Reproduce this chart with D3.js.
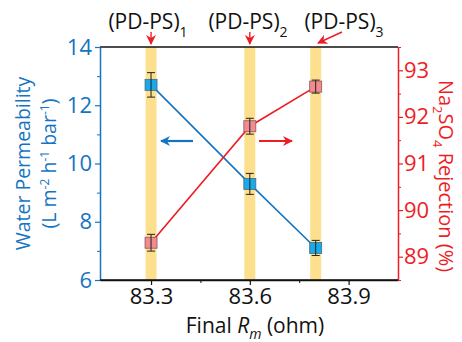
<!DOCTYPE html>
<html>
<head>
<meta charset="utf-8">
<script src="https://cdn.jsdelivr.net/npm/d3@7"></script>
<style>
  body { margin: 0; background: #fff; }
  text { font-family: "Open Sans", "Noto Sans", sans-serif; }
</style>
</head>
<body>
<div class="chart"></div>
<script>
// data
var rm = [83.3, 83.6, 83.8];
var perm = [12.7, 9.3, 7.1];
var permErr = [0.42, 0.36, 0.26];
var rej = [89.3, 91.8, 92.65];
var rejErr = [0.18, 0.17, 0.14];
var sampleSubs = ["1", "2", "3"];
var xTicks = [83.3, 83.6, 83.9];
var xMinor = [83.45, 83.75];
var leftTicks = [6, 8, 10, 12, 14];
var leftMinor = [7, 9, 11, 13];
var rightTicks = [89, 90, 91, 92, 93];
var rightMinor = [88.5, 89.5, 90.5, 91.5, 92.5, 93.5];

var W = 462, H = 342;
var pL = 100, pR = 398, pT = 47, pB = 280;
var blue = "#1574c2", red = "#ee1c25";

var svg = d3.select('.chart').append('svg').attr('width', W).attr('height', H);

var x = d3.scaleLinear().domain([83.145, 84.05]).range([pL, pR]);
var yL = d3.scaleLinear().domain([6, 14]).range([pB, pT]);
var yR = d3.scaleLinear().domain([88.5, 93.5]).range([pB, pT]);

// yellow highlight columns
svg.selectAll('rect.band').data(rm).enter().append('rect')
  .attr('class', 'band')
  .attr('x', function (d) { return x(d) - 5.5; })
  .attr('y', pT).attr('width', 11).attr('height', pB - pT)
  .attr('fill', '#fde08e');

// frame top
svg.append('line').attr('x1', pL).attr('x2', pR).attr('y1', pT).attr('y2', pT)
  .attr('stroke', '#111').attr('stroke-width', 1.5);

// axes
function styleAxis(g, color) {
  g.select('.domain').attr('stroke', color).attr('stroke-width', 1.5);
  g.selectAll('.tick line').attr('stroke', color).attr('stroke-width', 1.2);
  g.selectAll('.tick text').attr('fill', color).style('font-size', '22px')
    .style('font-family', '"Open Sans", sans-serif');
}

var xAxis = svg.append('g').attr('transform', 'translate(0,' + pB + ')')
  .call(d3.axisBottom(x).tickValues(xTicks).tickFormat(d3.format('.1f')).tickSize(5).tickSizeOuter(0));
styleAxis(xAxis, '#111');
xAxis.selectAll('.tick text').attr('dy', '0.75em').attr('y', 7);
svg.append('g').attr('transform', 'translate(0,' + pB + ')')
  .call(d3.axisBottom(x).tickValues(xMinor).tickFormat('').tickSize(3).tickSizeOuter(0))
  .call(function (g) { g.select('.domain').remove(); g.selectAll('line').attr('stroke', '#111'); });

var lAxis = svg.append('g').attr('transform', 'translate(' + pL + ',0)')
  .call(d3.axisLeft(yL).tickValues(leftTicks).tickFormat(d3.format('d')).tickSize(5).tickSizeOuter(0));
styleAxis(lAxis, blue);
lAxis.selectAll('.tick text').attr('x', -8);
svg.append('g').attr('transform', 'translate(' + pL + ',0)')
  .call(d3.axisLeft(yL).tickValues(leftMinor).tickFormat('').tickSize(3))
  .call(function (g) { g.select('.domain').remove(); g.selectAll('line').attr('stroke', blue); });

var rAxis = svg.append('g').attr('transform', 'translate(' + pR + ',0)')
  .call(d3.axisRight(yR).tickValues(rightTicks).tickFormat(d3.format('d')).tickSize(5).tickSizeOuter(0));
styleAxis(rAxis, red);
rAxis.selectAll('.tick text').attr('x', 6);
svg.append('g').attr('transform', 'translate(' + pR + ',0)')
  .call(d3.axisRight(yR).tickValues(rightMinor).tickFormat('').tickSize(3))
  .call(function (g) { g.select('.domain').remove(); g.selectAll('line').attr('stroke', red); });

// bottom frame line drawn black over the axis
svg.append('line').attr('x1', pL).attr('x2', pR).attr('y1', pB).attr('y2', pB)
  .attr('stroke', '#111').attr('stroke-width', 1.5);

// series lines
var permLine = d3.line().x(function (d, i) { return x(rm[i]); }).y(function (d) { return yL(d); });
var rejLine = d3.line().x(function (d, i) { return x(rm[i]); }).y(function (d) { return yR(d); });
svg.append('path').attr('d', permLine(perm)).attr('fill', 'none').attr('stroke', blue).attr('stroke-width', 1.6);
svg.append('path').attr('d', rejLine(rej)).attr('fill', 'none').attr('stroke', red).attr('stroke-width', 1.6);

// markers + error bars
function drawPoints(vals, errs, scale, fill, edge) {
  var g = svg.append('g');
  var pts = g.selectAll('g').data(vals).enter().append('g');
  pts.append('rect')
    .attr('x', function (d, i) { return x(rm[i]) - 6; })
    .attr('y', function (d) { return scale(d) - 5.5; })
    .attr('width', 12).attr('height', 11)
    .attr('fill', fill).attr('stroke', edge).attr('stroke-width', 0.8);
  pts.append('line')
    .attr('x1', function (d, i) { return x(rm[i]); }).attr('x2', function (d, i) { return x(rm[i]); })
    .attr('y1', function (d, i) { return scale(d + errs[i]); })
    .attr('y2', function (d, i) { return scale(d - errs[i]); })
    .attr('stroke', '#222').attr('stroke-width', 1);
  [1, -1].forEach(function (s) {
    pts.append('line')
      .attr('x1', function (d, i) { return x(rm[i]) - 4; }).attr('x2', function (d, i) { return x(rm[i]) + 4; })
      .attr('y1', function (d, i) { return scale(d + s * errs[i]); })
      .attr('y2', function (d, i) { return scale(d + s * errs[i]); })
      .attr('stroke', '#222').attr('stroke-width', 1);
  });
}
drawPoints(perm, permErr, yL, '#18a9e9', '#4a6a80');
drawPoints(rej, rejErr, yR, '#f38a8f', '#8a5a5a');

// arrow heads
var defs = svg.append('defs');
function marker(id, color) {
  defs.append('marker').attr('id', id).attr('viewBox', '0 0 10 10')
    .attr('refX', 9).attr('refY', 5).attr('markerWidth', 10).attr('markerHeight', 10)
    .attr('markerUnits', 'userSpaceOnUse').attr('orient', 'auto')
    .append('path').attr('d', 'M0,0 L10,5 L0,10 L3,5 Z').attr('fill', color);
}
marker('ahBlue', blue);
marker('ahRed', red);

function arrow(x1, y1, x2, y2, color, id, w) {
  svg.append('line').attr('x1', x1).attr('y1', y1).attr('x2', x2).attr('y2', y2)
    .attr('stroke', color).attr('stroke-width', w).attr('marker-end', 'url(#' + id + ')');
}
// which axis each series uses
arrow(193, 141, 161, 141, blue, 'ahBlue', 2.2);
arrow(259, 141, 292, 141, red, 'ahRed', 2.2);

// sample labels at the top
var labX = [148, 248, 344];
labX.forEach(function (lx, i) {
  var t = svg.append('text').attr('x', lx).attr('y', 29).attr('text-anchor', 'middle')
    .style('font-size', '21px').attr('fill', '#111');
  t.append('tspan').text('(PD-PS)');
  t.append('tspan').attr('dy', 8).style('font-size', '14px').text(sampleSubs[i]);
});
arrow(x(rm[0]), 32, x(rm[0]), 44, red, 'ahRed', 1.4);
arrow(x(rm[1]), 32, x(rm[1]), 44, red, 'ahRed', 1.4);
arrow(342, 32, 318, 43, red, 'ahRed', 1.4);

// axis titles
var lt = svg.append('text').attr('transform', 'translate(30,' + (pT + pB) / 2 + ') rotate(-90)')
  .attr('text-anchor', 'middle').attr('fill', blue).style('font-size', '19.5px');
lt.text('Water Permeability');
var lt2 = svg.append('text').attr('transform', 'translate(56,' + (pT + pB) / 2 + ') rotate(-90)')
  .attr('text-anchor', 'middle').attr('fill', blue).style('font-size', '19.5px');
lt2.append('tspan').text('(L m');
lt2.append('tspan').attr('dy', -7).style('font-size', '12px').text('-2');
lt2.append('tspan').attr('dy', 7).text(' h');
lt2.append('tspan').attr('dy', -7).style('font-size', '12px').text('-1');
lt2.append('tspan').attr('dy', 7).text(' bar');
lt2.append('tspan').attr('dy', -7).style('font-size', '12px').text('-1');
lt2.append('tspan').attr('dy', 7).text(')');

var rt = svg.append('text').attr('transform', 'translate(439,176) rotate(90)')
  .attr('text-anchor', 'middle').attr('fill', red).style('font-size', '20px');
rt.append('tspan').text('Na');
rt.append('tspan').attr('dy', 6).style('font-size', '13px').text('2');
rt.append('tspan').attr('dy', -6).text('SO');
rt.append('tspan').attr('dy', 6).style('font-size', '13px').text('4');
rt.append('tspan').attr('dy', -6).text(' Rejection (%)');

var xt = svg.append('text').attr('x', 255).attr('y', 333).attr('text-anchor', 'middle')
  .attr('fill', '#111').style('font-size', '21px');
xt.append('tspan').text('Final ');
xt.append('tspan').style('font-style', 'italic').text('R');
xt.append('tspan').attr('dy', 6).style('font-style', 'italic').style('font-size', '14px').text('m');
xt.append('tspan').attr('dy', -6).text(' (ohm)');
</script>
</body>
</html>
